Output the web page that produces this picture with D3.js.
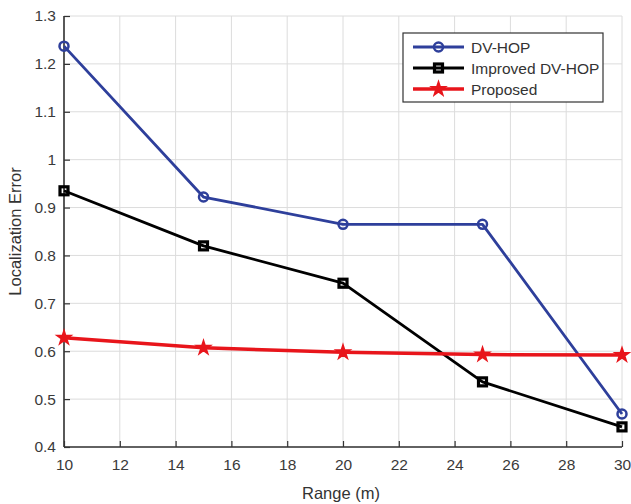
<!DOCTYPE html>
<html>
<head>
<meta charset="utf-8">
<script src="https://cdn.jsdelivr.net/npm/d3@7"></script>
<style>
  body { margin: 0; background: #fff; }
  svg { display: block; font-family: "Liberation Sans", Arial, sans-serif; }
</style>
</head>
<body>
<svg id="chart" width="631" height="504"></svg>
<script>
// Localization error vs. communication range
const ranges = [10, 15, 20, 25, 30];
const dvHop = [1.237, 0.922, 0.865, 0.865, 0.469];
const improvedDvHop = [0.935, 0.820, 0.742, 0.536, 0.442];
const proposed = [0.628, 0.607, 0.598, 0.593, 0.592];
const xTicks = [10, 12, 14, 16, 18, 20, 22, 24, 26, 28, 30];
const yTicks = [0.4, 0.5, 0.6, 0.7, 0.8, 0.9, 1.0, 1.1, 1.2, 1.3];

const seriesList = [
  { name: "DV-HOP", values: dvHop, color: "#2e3f9b", marker: "circle" },
  { name: "Improved DV-HOP", values: improvedDvHop, color: "#000000", marker: "square" },
  { name: "Proposed", values: proposed, color: "#e8151b", marker: "star" }
];

const svg = d3.select("#chart");
const margin = { left: 64, right: 5, top: 16, bottom: 57 };
const W = 631, H = 504;

const x = d3.scaleLinear().domain([10, 30]).range([margin.left, W - margin.right - 4]);
const y = d3.scaleLinear().domain([0.4, 1.3]).range([H - margin.bottom, margin.top]);

// grid
const grid = svg.append("g").attr("stroke", "#dcdcdc").attr("stroke-width", 1);
grid.selectAll(".gx").data(xTicks).join("line")
  .attr("x1", d => x(d)).attr("x2", d => x(d))
  .attr("y1", y(0.4)).attr("y2", y(1.3));
grid.selectAll(".gy").data(yTicks).join("line")
  .attr("y1", d => y(d)).attr("y2", d => y(d))
  .attr("x1", x(10)).attr("x2", x(30));

// axes with inward ticks
const xAxis = svg.append("g").attr("transform", `translate(0,${y(0.4)})`)
  .call(d3.axisBottom(x).tickValues(xTicks).tickSize(-6).tickPadding(12).tickFormat(d3.format("d")));
const yAxis = svg.append("g").attr("transform", `translate(${x(10)},0)`)
  .call(d3.axisLeft(y).tickValues(yTicks).tickSize(-6).tickPadding(8).tickFormat(d => d === 1 ? "1" : d3.format(".1f")(d)));
[xAxis, yAxis].forEach(a => {
  a.select(".domain").attr("stroke", "#333").attr("stroke-width", 1.6);
  a.selectAll(".tick line").attr("stroke", "#333").attr("stroke-width", 1.2);
  a.selectAll(".tick text").attr("fill", "#3a3a3a").attr("font-size", 15.5)
    .attr("font-family", "Liberation Sans, Arial, sans-serif");
});
xAxis.selectAll(".domain").attr("d", `M${x(10)},0H${x(30)}`);
yAxis.selectAll(".domain").attr("d", `M0,${y(0.4)}V${y(1.3)}`);

// axis titles
svg.append("text").attr("x", (x(10) + x(30)) / 2 - 2).attr("y", 499)
  .attr("text-anchor", "middle").attr("font-size", 16.5).attr("fill", "#333").text("Range (m)");
svg.append("text").attr("transform", `translate(21,${(y(0.4) + y(1.3)) / 2}) rotate(-90)`)
  .attr("text-anchor", "middle").attr("font-size", 16.5).attr("fill", "#333").text("Localization Error");

const line = d3.line().x((d, i) => x(ranges[i])).y(d => y(d));

function drawMarker(g, type, color, cx, cy) {
  if (type === "circle") {
    g.append("circle").attr("cx", cx).attr("cy", cy).attr("r", 4.5)
      .attr("fill", "none").attr("stroke", color).attr("stroke-width", 2.5);
  } else if (type === "square") {
    g.append("rect").attr("x", cx - 4).attr("y", cy - 4).attr("width", 8).attr("height", 8)
      .attr("fill", "none").attr("stroke", color).attr("stroke-width", 3.2);
  } else {
    g.append("path").attr("transform", `translate(${cx},${cy})`)
      .attr("d", d3.symbol(d3.symbolStar, 38)())
      .attr("fill", color).attr("stroke", color).attr("stroke-width", 2.5);
  }
}

seriesList.forEach(s => {
  const g = svg.append("g");
  g.append("path").datum(s.values).attr("d", line)
    .attr("fill", "none").attr("stroke", s.color)
    .attr("stroke-width", s.marker === "star" ? 3.5 : 2.8).attr("stroke-linejoin", "round");
  s.values.forEach((v, i) => drawMarker(g, s.marker, s.color, x(ranges[i]), y(v)));
});

// legend
const lg = svg.append("g").attr("transform", "translate(403,33)");
lg.append("rect").attr("width", 200).attr("height", 69)
  .attr("fill", "#fff").attr("stroke", "#333").attr("stroke-width", 1.2);
seriesList.forEach((s, i) => {
  const yy = 14 + i * 21;
  lg.append("line").attr("x1", 10).attr("x2", 61).attr("y1", yy).attr("y2", yy)
    .attr("stroke", s.color).attr("stroke-width", s.marker === "star" ? 3.5 : 2.8);
  drawMarker(lg, s.marker, s.color, 35.5, yy);
  lg.append("text").attr("x", 68).attr("y", yy + 5.5).attr("font-size", 15.5)
    .attr("fill", "#333").text(s.name);
});
</script>
</body>
</html>
